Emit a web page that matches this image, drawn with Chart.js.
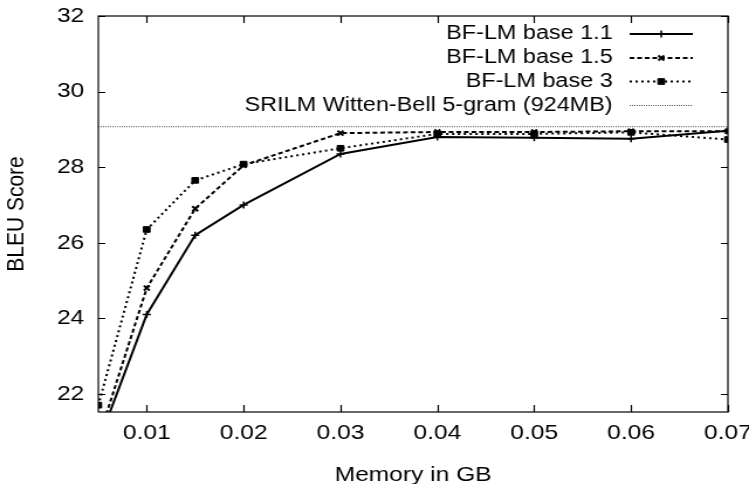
<!DOCTYPE html>
<html>
<head>
<meta charset="utf-8">
<script src="https://cdn.jsdelivr.net/npm/chart.js@4/dist/chart.umd.min.js"></script>
<style>
  html, body { margin: 0; padding: 0; background: #fff; overflow: hidden; }
  #wrap { width: 640px; height: 484px; transform: scaleX(1.1703125); transform-origin: 0 0; }
  #c { display: block; }
</style>
</head>
<body>
<div id="wrap"><canvas id="c" width="640" height="484" style="width:640px;height:484px"></canvas></div>
<script>
// ---- data ----
const memoryGB = [0.005, 0.01, 0.015, 0.02, 0.03, 0.04, 0.05, 0.06, 0.07];
const base11 = [20.7, 24.1, 26.2, 27.0, 28.35, 28.8, 28.78, 28.75, 28.96];
const base15 = [20.8, 24.8, 26.9, 28.05, 28.9, 28.93, 28.93, 28.95, 28.95];
const base3  = [21.7, 26.35, 27.65, 28.08, 28.5, 28.88, 28.88, 28.92, 28.73];
const srilmScore = 29.07;
const xTicks = [0.01, 0.02, 0.03, 0.04, 0.05, 0.06, 0.07];
const yTicks = [22, 24, 26, 28, 30, 32];
const seriesNames = ['BF-LM base 1.1', 'BF-LM base 1.5', 'BF-LM base 3', 'SRILM Witten-Bell 5-gram (924MB)'];

const FONT = '"Liberation Sans", Arial, Helvetica, sans-serif';
const FS = 21;
const LEGEND_FS = 20;

function pts(ys) { return memoryGB.map((x, i) => ({ x: x, y: ys[i] })); }

const datasets = [
  { label: seriesNames[0], data: pts(base11), borderColor: '#000', backgroundColor: '#000',
    borderWidth: 2, pointStyle: 'cross', pointRadius: 3.5, pointBorderWidth: 1.5, borderDash: [] },
  { label: seriesNames[1], data: pts(base15), borderColor: '#000', backgroundColor: '#000',
    borderWidth: 2, pointStyle: 'crossRot', pointRadius: 3.5, pointBorderWidth: 2, borderDash: [4, 2.5] },
  { label: seriesNames[2], data: pts(base3), borderColor: '#000', backgroundColor: '#000',
    borderWidth: 2, pointStyle: 'rect', pointRadius: 4, pointBorderWidth: 1, borderDash: [2, 3] },
  { label: seriesNames[3], data: [{ x: 0.005, y: srilmScore }, { x: 0.07, y: srilmScore }],
    borderColor: '#555', backgroundColor: '#555', borderWidth: 1, pointRadius: 0, borderDash: [1, 1] }
];

// frame, inward ticks (mirrored), and gnuplot-style legend
const decor = {
  id: 'decor',
  afterDatasetsDraw(chart) {
    const ctx = chart.ctx;
    const a = chart.chartArea;
    const xs = chart.scales.x, ys = chart.scales.y;
    ctx.save();
    ctx.strokeStyle = '#000';
    ctx.lineWidth = 1.2;
    ctx.setLineDash([]);
    ctx.strokeRect(a.left, a.top, a.right - a.left, a.bottom - a.top);
    const tlx = 7, tly = 6;
    ctx.beginPath();
    xTicks.forEach(v => {
      const px = Math.round(xs.getPixelForValue(v)) + 0.5;
      ctx.moveTo(px, a.bottom); ctx.lineTo(px, a.bottom - tlx);
      ctx.moveTo(px, a.top); ctx.lineTo(px, a.top + tlx);
    });
    yTicks.forEach(v => {
      const py = Math.round(ys.getPixelForValue(v)) + 0.5;
      ctx.moveTo(a.left, py); ctx.lineTo(a.left + tly, py);
      ctx.moveTo(a.right, py); ctx.lineTo(a.right - tly, py);
    });
    ctx.stroke();

    // legend
    const textRight = 523.5, x0 = 538, x1 = 592, rowY = [33.5, 57.5, 81, 105];
    ctx.font = LEGEND_FS + 'px ' + FONT;
    ctx.textAlign = 'right';
    ctx.textBaseline = 'middle';
    chart.data.datasets.forEach((ds, i) => {
      const y = rowY[i];
      ctx.fillStyle = '#000';
      ctx.fillText(ds.label, textRight, y);
      ctx.strokeStyle = ds.borderColor;
      ctx.lineWidth = ds.borderWidth;
      ctx.setLineDash(ds.borderDash || []);
      ctx.beginPath();
      ctx.moveTo(x0, y + 0.5); ctx.lineTo(x1, y + 0.5);
      ctx.stroke();
      ctx.setLineDash([]);
      if (ds.pointRadius > 0) {
        ctx.fillStyle = '#000';
        ctx.strokeStyle = '#000';
        ctx.lineWidth = ds.pointBorderWidth;
        Chart.helpers.drawPoint(ctx, {
          pointStyle: ds.pointStyle, radius: ds.pointRadius, rotation: 0,
          borderWidth: ds.pointBorderWidth
        }, (x0 + x1) / 2, y + 0.5);
      }
    });
    ctx.restore();
  }
};

new Chart(document.getElementById('c'), {
  type: 'line',
  data: { datasets: datasets },
  plugins: [decor],
  options: {
    responsive: false,
    animation: false,
    devicePixelRatio: 1,
    layout: { padding: { top: 16, right: 18, left: 0, bottom: 0 } },
    plugins: { legend: { display: false }, tooltip: { enabled: false } },
    elements: { line: { tension: 0 } },
    scales: {
      x: {
        type: 'linear', min: 0.005, max: 0.07,
        afterBuildTicks: s => { s.ticks = xTicks.map(v => ({ value: v })); },
        afterFit: s => { s.height = 72; s.paddingLeft = 0; s.paddingRight = 0; },
        grid: { display: false, drawTicks: false },
        border: { display: false },
        ticks: { color: '#000', font: { family: FONT, size: FS }, padding: 9,
                 maxRotation: 0, autoSkip: false,
                 callback: v => v.toFixed(2) },
        title: { display: true, text: 'Memory in GB', color: '#000',
                 font: { family: FONT, size: FS, lineHeight: 0.8 }, padding: { top: 0, bottom: 0 } }
      },
      y: {
        type: 'linear', min: 21.52, max: 32,
        afterBuildTicks: s => { s.ticks = yTicks.map(v => ({ value: v })); },
        afterFit: s => { s.width = 84; s.paddingTop = 0; s.paddingBottom = 0; },
        grid: { display: false, drawTicks: false },
        border: { display: false },
        ticks: { color: '#000', font: { family: FONT, size: FS }, padding: 12,
                 callback: v => String(v) },
        title: { display: true, text: 'BLEU Score', color: '#000',
                 font: { family: FONT, size: FS }, padding: { top: 2, bottom: 2 } }
      }
    }
  }
});
</script>
</body>
</html>
